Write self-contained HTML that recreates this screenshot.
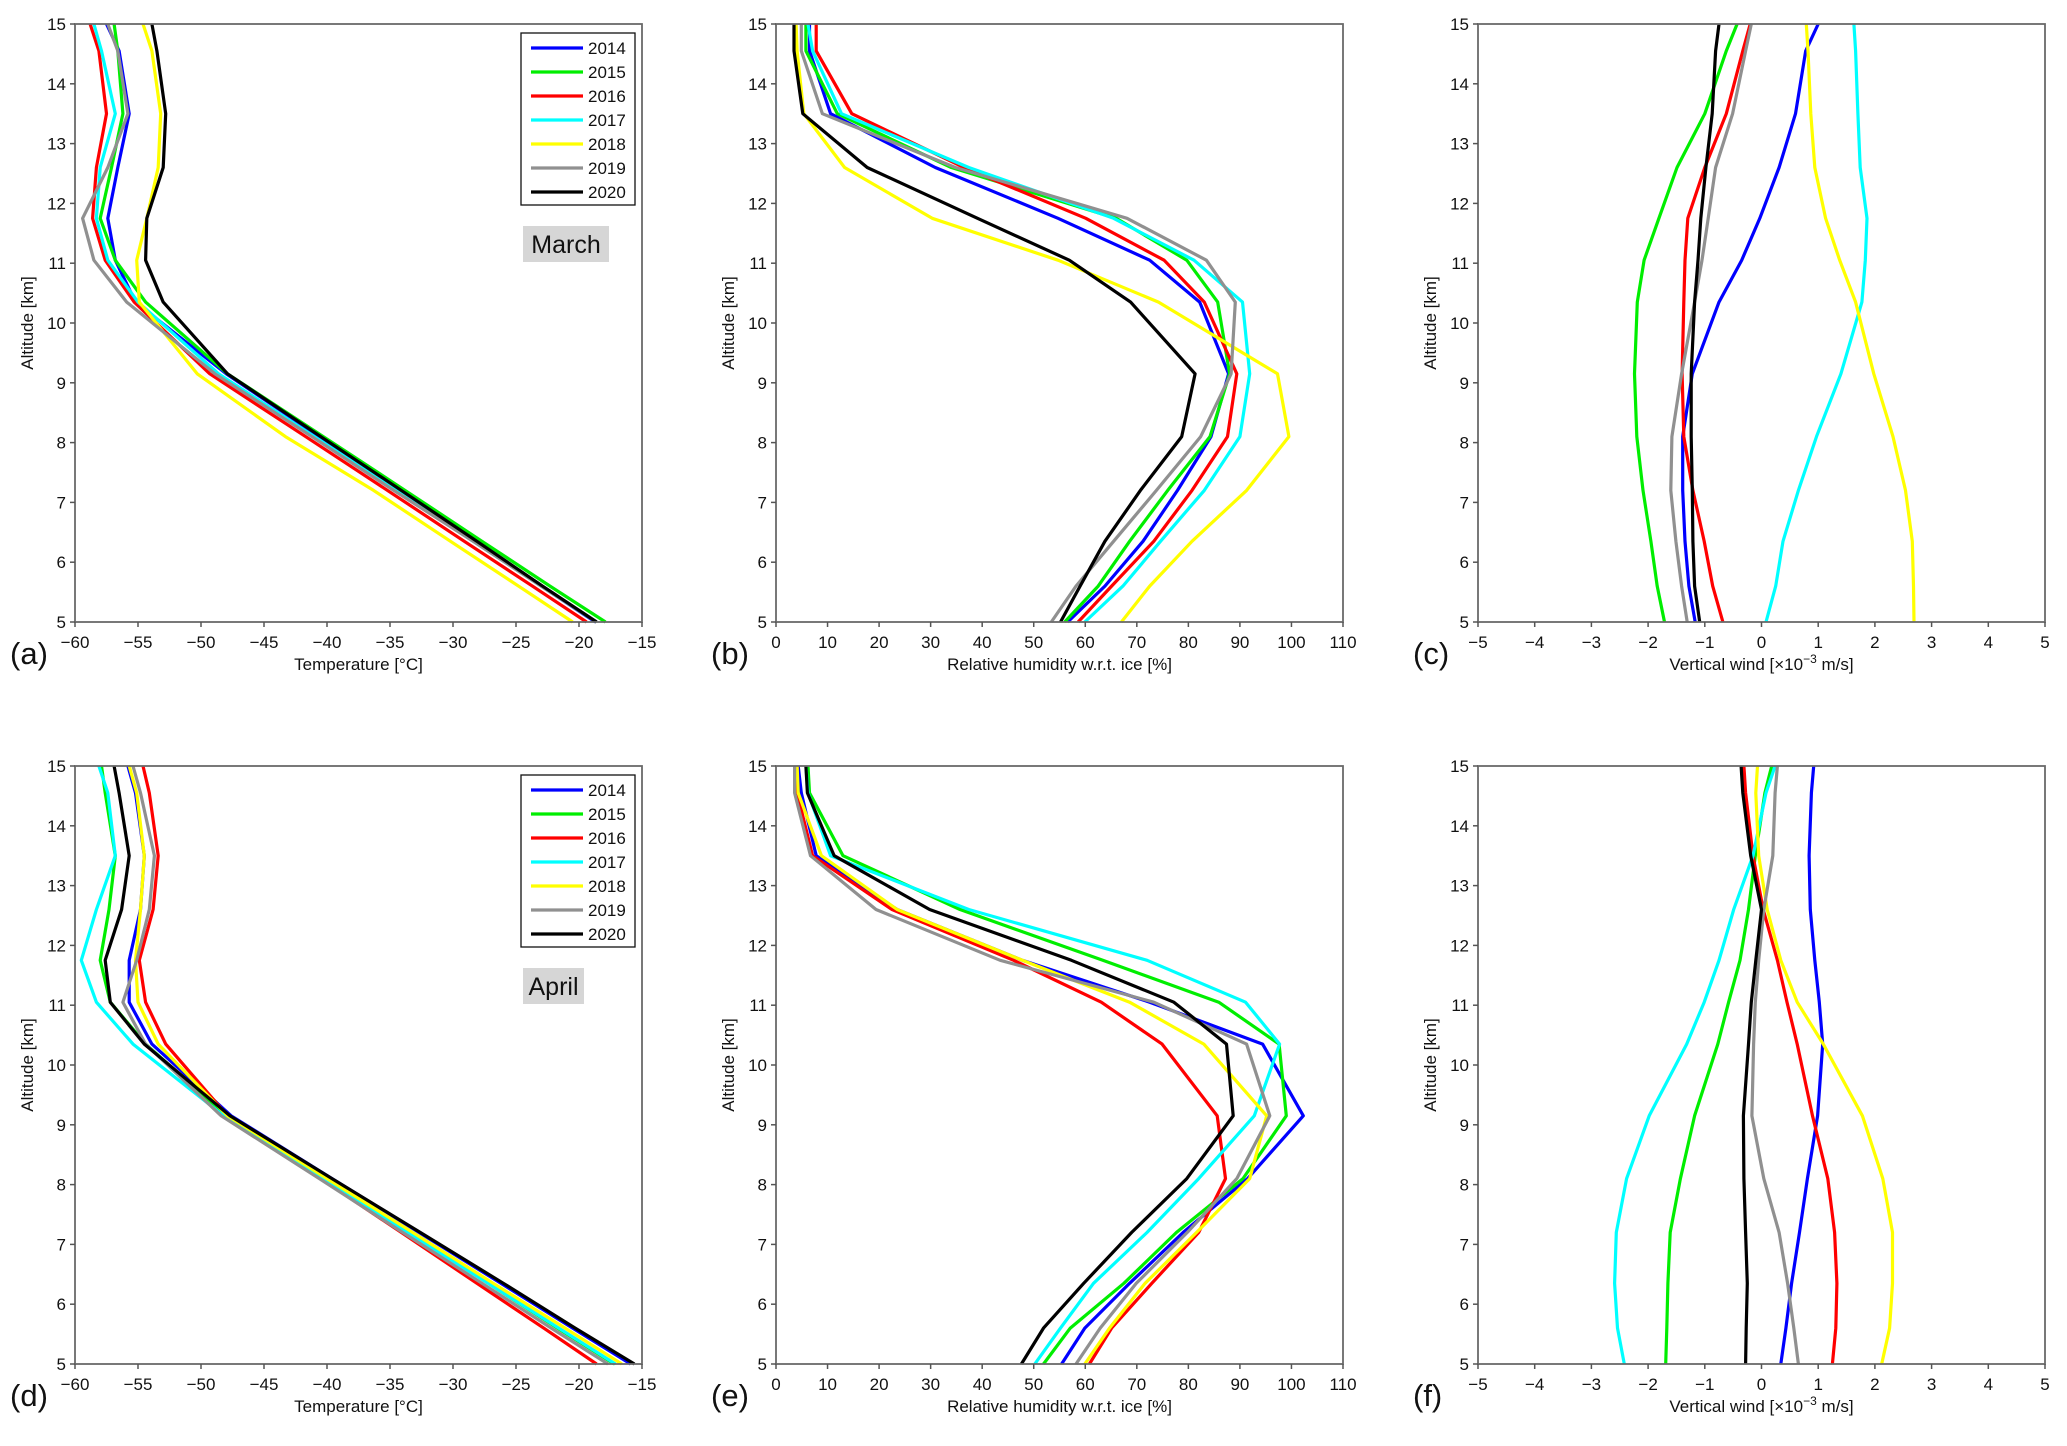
<!DOCTYPE html>
<html><head><meta charset="utf-8"><style>
body{margin:0;background:#fff;}
svg{display:block;font-family:"Liberation Sans",Arial,sans-serif;}
</style></head><body>
<svg id="fig" width="2067" height="1446" viewBox="0 0 2067 1446"></svg>
<script>
const levels=[5,5.6,6.35,7.2,8.1,9.15,10.35,11.05,11.75,12.6,13.5,14.55,15];
const years=['2014','2015','2016','2017','2018','2019','2020'];
const colors=['#0000ff','#00ee00','#ff0000','#00ffff','#ffff00','#909090','#000000'];

const tempMar2014=[-18.7,-23,-28.2,-34.2,-40.6,-48,-55.2,-56.8,-57.4,-56.6,-55.7,-56.5,-57.5];
const tempMar2015=[-17.9,-22.3,-27.7,-33.8,-40.3,-47.9,-54.4,-56.8,-58,-57.1,-56.2,-56.6,-56.9];
const tempMar2016=[-19.4,-23.7,-29.1,-35.2,-41.7,-49.3,-55.3,-57.6,-58.6,-58.3,-57.5,-58.1,-58.8];
const tempMar2017=[-18.6,-23,-28.4,-34.5,-41,-48.6,-55,-57.4,-58.3,-58,-56.8,-57.9,-58.5];
const tempMar2018=[-20.5,-24.8,-30.2,-36.3,-43.3,-50.3,-54.9,-55.1,-54.3,-53.4,-53.2,-53.9,-54.6];
const tempMar2019=[-18.6,-23,-28.4,-34.7,-41.2,-48.9,-55.9,-58.5,-59.4,-57.4,-55.8,-56.6,-57.4];
const tempMar2020=[-18.6,-22.9,-28.1,-34.1,-40.5,-47.9,-53,-54.4,-54.3,-53,-52.8,-53.5,-53.9];

const rhMar2014=[56.6,63.8,71.2,77.9,84.4,87.8,82.2,72.5,54.7,30.9,10.6,6.5,6.5];
const rhMar2015=[56,62.5,68.6,76,84.2,88,85.7,79.7,66,34,11.9,5.8,5.8];
const rhMar2016=[58.6,65.1,73.3,80.7,87.6,89.4,83.1,75.3,60.1,36.5,14.7,7.8,7.8];
const rhMar2017=[59.9,67.3,74.6,83.1,90,91.9,90.5,81.1,65.5,37.4,12.7,7.1,6.2];
const rhMar2018=[67,72.5,80.7,91.3,99.5,97.3,74.2,54.7,30.3,13.3,5.4,4.1,3.9];
const rhMar2019=[53.4,58.2,65.5,73.8,82.4,88.3,89.1,83.5,68.1,34.8,9,4.9,4.9];
const rhMar2020=[55.2,59,63.8,70.7,78.7,81.3,68.8,56.9,39.1,17.7,5.2,3.5,3.5];

const wMar2014=[-1.17,-1.28,-1.35,-1.39,-1.39,-1.22,-0.75,-0.35,-0.03,0.31,0.6,0.78,1.0];
const wMar2015=[-1.71,-1.84,-1.95,-2.09,-2.2,-2.24,-2.19,-2.07,-1.81,-1.49,-1.0,-0.62,-0.43];
const wMar2016=[-0.68,-0.86,-1.01,-1.21,-1.37,-1.4,-1.37,-1.35,-1.3,-1.0,-0.62,-0.33,-0.2];
const wMar2017=[0.08,0.25,0.38,0.65,0.97,1.4,1.77,1.83,1.86,1.74,1.7,1.66,1.63];
const wMar2018=[2.69,2.68,2.66,2.54,2.32,1.98,1.66,1.38,1.13,0.94,0.87,0.82,0.79];
const wMar2019=[-1.31,-1.41,-1.51,-1.6,-1.58,-1.41,-1.18,-1.05,-0.94,-0.81,-0.51,-0.28,-0.18];
const wMar2020=[-1.09,-1.18,-1.21,-1.22,-1.24,-1.24,-1.18,-1.12,-1.07,-0.98,-0.87,-0.81,-0.75];

const tempApr2014=[-15.9,-20.5,-26.2,-32.7,-39.6,-47.6,-53.9,-55.7,-55.7,-54.8,-54.5,-55.2,-55.8];
const tempApr2015=[-17.2,-21.7,-27.2,-33.5,-40.2,-48,-54.4,-57.2,-58,-57.3,-56.8,-57.6,-57.9];
const tempApr2016=[-18.6,-22.8,-28.1,-34.1,-40.5,-47.9,-52.8,-54.4,-54.9,-53.8,-53.4,-54.1,-54.6];
const tempApr2017=[-17.1,-21.6,-27.2,-33.6,-40.3,-48.2,-55.4,-58.3,-59.5,-58.3,-56.8,-57.4,-58.1];
const tempApr2018=[-16.6,-21.1,-26.8,-33.2,-40,-47.9,-53.4,-55,-55.2,-54.8,-54.5,-55.1,-55.7];
const tempApr2019=[-17.7,-22.2,-27.7,-34,-40.6,-48.4,-54.4,-56.2,-55.1,-54.1,-53.7,-54.8,-55.4];
const tempApr2020=[-15.6,-20.3,-26,-32.6,-39.6,-47.7,-54.5,-57.2,-57.6,-56.3,-55.7,-56.5,-56.9];

const rhApr2014=[55.4,59.9,68.6,79,91.5,102.3,94.4,72.5,47.8,23.5,7.8,4.9,4.3];
const rhApr2015=[51.9,57.1,67.5,77.7,90.6,99,97.6,85.9,63.4,35.7,13,6.5,6.2];
const rhApr2016=[60.8,65.1,72.9,82,87.2,85.6,74.9,63.1,46.1,22.5,7.1,4.1,4.1];
const rhApr2017=[50.2,55.2,61.6,72,82,92.8,97.7,91.1,72,37.4,10.6,6.2,5.8];
const rhApr2018=[59.9,64.7,71.6,81.6,91.9,95.2,83,68.6,47.8,23.5,8.8,4.3,4.1];
const rhApr2019=[58.2,62.9,69.9,79.8,89.4,95.8,91.3,73.3,43.5,19.4,6.7,3.6,3.6];
const rhApr2020=[47.6,51.9,59.7,69,79.7,88.7,87.4,77.2,57.3,29.8,11.3,6.1,5.8];

const wApr2014=[0.34,0.43,0.53,0.67,0.81,0.99,1.08,1.02,0.94,0.86,0.84,0.88,0.92];
const wApr2015=[-1.69,-1.67,-1.65,-1.61,-1.43,-1.18,-0.77,-0.58,-0.38,-0.23,-0.11,0.06,0.18];
const wApr2016=[1.25,1.31,1.33,1.29,1.17,0.9,0.63,0.45,0.28,0.03,-0.15,-0.28,-0.31];
const wApr2017=[-2.42,-2.54,-2.59,-2.56,-2.38,-1.98,-1.32,-1.01,-0.75,-0.49,-0.15,0.08,0.24];
const wApr2018=[2.12,2.26,2.31,2.31,2.14,1.78,1.09,0.63,0.34,0.1,-0.05,-0.1,-0.07];
const wApr2019=[0.65,0.57,0.46,0.31,0.04,-0.17,-0.14,-0.11,-0.05,0.04,0.2,0.24,0.28];
const wApr2020=[-0.28,-0.27,-0.25,-0.28,-0.31,-0.32,-0.23,-0.18,-0.1,0.0,-0.19,-0.33,-0.36];

const tempTicks=[-60,-55,-50,-45,-40,-35,-30,-25,-20,-15];
const rhTicks=[0,10,20,30,40,50,60,70,80,90,100,110];
const wTicks=[-5,-4,-3,-2,-1,0,1,2,3,4,5];
const altTicks=[5,6,7,8,9,10,11,12,13,14,15];

const svg=document.getElementById('fig');
const NS='http://www.w3.org/2000/svg';
function mk(tag,attrs,parent){const e=document.createElementNS(NS,tag);for(const k in attrs)e.setAttribute(k,attrs[k]);(parent||svg).appendChild(e);return e;}
function fmt(v){return v<0?'\u2212'+Math.abs(v):String(v);}

const W=567,H=598;
const panels=[
 {id:'a',x:75,y:24,ticks:tempTicks,xmin:-60,xmax:-15,title:'Temperature [°C]',series:[tempMar2014,tempMar2015,tempMar2016,tempMar2017,tempMar2018,tempMar2019,tempMar2020],legend:true,month:'March'},
 {id:'b',x:776,y:24,ticks:rhTicks,xmin:0,xmax:110,title:'Relative humidity w.r.t. ice [%]',series:[rhMar2014,rhMar2015,rhMar2016,rhMar2017,rhMar2018,rhMar2019,rhMar2020]},
 {id:'c',x:1478,y:24,ticks:wTicks,xmin:-5,xmax:5,title:'wind',series:[wMar2014,wMar2015,wMar2016,wMar2017,wMar2018,wMar2019,wMar2020]},
 {id:'d',x:75,y:766,ticks:tempTicks,xmin:-60,xmax:-15,title:'Temperature [°C]',series:[tempApr2014,tempApr2015,tempApr2016,tempApr2017,tempApr2018,tempApr2019,tempApr2020],legend:true,month:'April'},
 {id:'e',x:776,y:766,ticks:rhTicks,xmin:0,xmax:110,title:'Relative humidity w.r.t. ice [%]',series:[rhApr2014,rhApr2015,rhApr2016,rhApr2017,rhApr2018,rhApr2019,rhApr2020]},
 {id:'f',x:1478,y:766,ticks:wTicks,xmin:-5,xmax:5,title:'wind',series:[wApr2014,wApr2015,wApr2016,wApr2017,wApr2018,wApr2019,wApr2020]}
];

panels.forEach(p=>{
  const g=mk('g',{});
  
  
  const sx=v=>p.x+(v-p.xmin)/(p.xmax-p.xmin)*W;
  const sy=v=>p.y+H-(v-5)/10*H;
  p.series.forEach((s,i)=>{
    const pts=s.map((v,k)=>sx(v).toFixed(1)+','+sy(levels[k]).toFixed(1)).join(' ');
    const pl=mk('polyline',{points:pts,fill:'none',stroke:colors[i],'stroke-width':3.2,'stroke-linejoin':'round'},g);
    
    
  });
  const fr=mk('rect',{x:p.x,y:p.y,width:W,height:H,fill:'none',stroke:'#6a6a6a','stroke-width':1.8},g);
  
  
  p.ticks.forEach(t=>{
    const x=sx(t);
    mk('line',{x1:x,y1:p.y+H,x2:x,y2:p.y+H+5,stroke:'#555','stroke-width':1.5},g);
    const tx=mk('text',{x:x,y:p.y+H+26,'font-size':17,'text-anchor':'middle',fill:'#111'},g);
    tx.textContent=fmt(t);
    
    
  });
  altTicks.forEach(t=>{
    const y=sy(t);
    mk('line',{x1:p.x-5,y1:y,x2:p.x,y2:y,stroke:'#555','stroke-width':1.5},g);
    const tx=mk('text',{x:p.x-9,y:y+6,'font-size':17,'text-anchor':'end',fill:'#111'},g);
    tx.textContent=t;
    
    
  });
  const xt=mk('text',{x:p.x+W/2,y:p.y+H+48,'font-size':17,'text-anchor':'middle',fill:'#111'},g);
  if(p.title==='wind'){
    xt.appendChild(document.createTextNode('Vertical wind [×10'));
    const ts=mk('tspan',{dy:-7,'font-size':12},xt);ts.textContent='−3';
    const ts2=mk('tspan',{dy:7},xt);ts2.textContent=' m/s]';
  } else xt.textContent=p.title;
  
  
  const yt=mk('text',{x:0,y:0,'font-size':17,'text-anchor':'middle',fill:'#111',transform:`translate(${p.x-42},${p.y+H/2}) rotate(-90)`},g);
  yt.textContent='Altitude [km]';
  
  
  const pl=mk('text',{x:p.x-65,y:p.y+H+42,'font-size':31,fill:'#111'},g);
  pl.textContent='('+p.id+')';
  
  
  if(p.legend){
    const lg=mk('g',{},g);
    
    
    const lx=p.x+446,ly=p.y+9;
    mk('rect',{x:lx,y:ly,width:114,height:172,fill:'#fff',stroke:'#111','stroke-width':1.3},lg);
    years.forEach((yr,i)=>{
      const yy=ly+15+i*24;
      const ent=mk('g',{},lg);
      
      
      mk('line',{x1:lx+10,y1:yy,x2:lx+62,y2:yy,stroke:colors[i],'stroke-width':3.2},ent);
      const t=mk('text',{x:lx+67,y:yy+6,'font-size':17,fill:'#111'},ent);
      t.textContent=yr;
    });
    const mw=p.month==='March'?86:61;
    const mb=mk('rect',{x:p.x+448,y:p.y+202,width:mw,height:36,fill:'#d6d6d6'},g);
    
    
    const mt=mk('text',{x:p.x+448+mw/2,y:p.y+229,'font-size':25,'text-anchor':'middle',fill:'#111'},g);
    mt.textContent=p.month;
    
    
  }
});
</script>
</body></html>
